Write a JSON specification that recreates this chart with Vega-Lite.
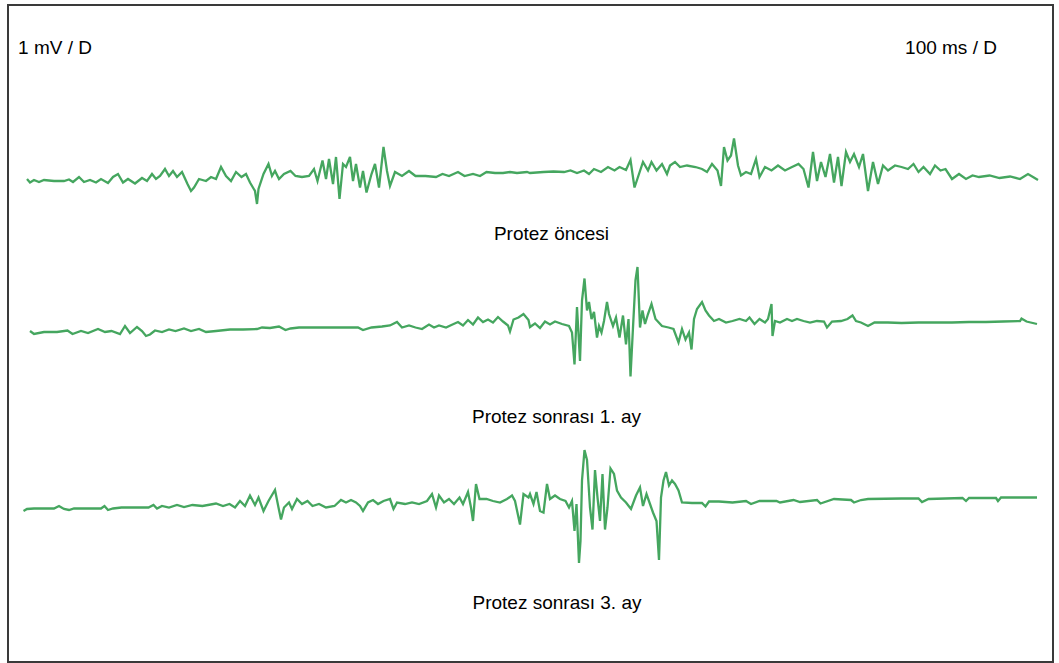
{
  "$schema": "https://vega.github.io/schema/vega-lite/v6.json",
  "autosize": {"type": "fit", "contains": "padding"},
  "width": 1059,
  "height": 663,
  "padding": {"left": 8, "top": 5, "right": 6, "bottom": 1},
  "background": "#ffffff",
  "config": {"view": {"stroke": "#3a3a3a", "strokeWidth": 2}},
  "datasets": {
    "traces": [
      {"s":"Protez öncesi","t":27,"v":179},{"s":"Protez öncesi","t":30,"v":182.5},{"s":"Protez öncesi","t":34,"v":180},{"s":"Protez öncesi","t":39,"v":182},{"s":"Protez öncesi","t":44,"v":180},{"s":"Protez öncesi","t":54,"v":181},{"s":"Protez öncesi","t":64,"v":181},{"s":"Protez öncesi","t":69,"v":179.5},{"s":"Protez öncesi","t":73,"v":182},{"s":"Protez öncesi","t":79,"v":177},{"s":"Protez öncesi","t":84,"v":182},{"s":"Protez öncesi","t":90,"v":180},{"s":"Protez öncesi","t":96,"v":182.5},{"s":"Protez öncesi","t":101,"v":179},{"s":"Protez öncesi","t":108,"v":183},{"s":"Protez öncesi","t":113,"v":177},{"s":"Protez öncesi","t":118,"v":174},{"s":"Protez öncesi","t":123,"v":182.5},{"s":"Protez öncesi","t":128,"v":179},{"s":"Protez öncesi","t":135,"v":183.5},{"s":"Protez öncesi","t":142,"v":178},{"s":"Protez öncesi","t":147,"v":181},{"s":"Protez öncesi","t":152,"v":174},{"s":"Protez öncesi","t":156,"v":179},{"s":"Protez öncesi","t":160,"v":176},{"s":"Protez öncesi","t":165,"v":169},{"s":"Protez öncesi","t":169,"v":176},{"s":"Protez öncesi","t":173,"v":171},{"s":"Protez öncesi","t":177,"v":177},{"s":"Protez öncesi","t":182,"v":172},{"s":"Protez öncesi","t":187.5,"v":184},{"s":"Protez öncesi","t":191,"v":191},{"s":"Protez öncesi","t":194,"v":187.5},{"s":"Protez öncesi","t":199,"v":179},{"s":"Protez öncesi","t":206,"v":181},{"s":"Protez öncesi","t":211,"v":177},{"s":"Protez öncesi","t":216,"v":179},{"s":"Protez öncesi","t":221,"v":167},{"s":"Protez öncesi","t":226,"v":176},{"s":"Protez öncesi","t":231,"v":181},{"s":"Protez öncesi","t":236,"v":172},{"s":"Protez öncesi","t":241.5,"v":177},{"s":"Protez öncesi","t":246,"v":174},{"s":"Protez öncesi","t":250,"v":182.5},{"s":"Protez öncesi","t":255,"v":191},{"s":"Protez öncesi","t":257,"v":204},{"s":"Protez öncesi","t":258.5,"v":189},{"s":"Protez öncesi","t":263.5,"v":174},{"s":"Protez öncesi","t":268.5,"v":164},{"s":"Protez öncesi","t":272,"v":176},{"s":"Protez öncesi","t":275,"v":171},{"s":"Protez öncesi","t":279,"v":179},{"s":"Protez öncesi","t":284,"v":174},{"s":"Protez öncesi","t":290.5,"v":171},{"s":"Protez öncesi","t":295.5,"v":176},{"s":"Protez öncesi","t":302,"v":177},{"s":"Protez öncesi","t":309,"v":176},{"s":"Protez öncesi","t":314,"v":169},{"s":"Protez öncesi","t":317.5,"v":181},{"s":"Protez öncesi","t":322.5,"v":160.5},{"s":"Protez öncesi","t":326,"v":179},{"s":"Protez öncesi","t":329,"v":159},{"s":"Protez öncesi","t":333,"v":184},{"s":"Protez öncesi","t":336,"v":157},{"s":"Protez öncesi","t":339.5,"v":199},{"s":"Protez öncesi","t":343,"v":164},{"s":"Protez öncesi","t":346,"v":167},{"s":"Protez öncesi","t":350,"v":157},{"s":"Protez öncesi","t":353,"v":181},{"s":"Protez öncesi","t":356,"v":164},{"s":"Protez öncesi","t":360,"v":187.5},{"s":"Protez öncesi","t":363,"v":171},{"s":"Protez öncesi","t":366.5,"v":192.5},{"s":"Protez öncesi","t":371.5,"v":174},{"s":"Protez öncesi","t":375,"v":164},{"s":"Protez öncesi","t":379,"v":187.5},{"s":"Protez öncesi","t":383.5,"v":147},{"s":"Protez öncesi","t":387,"v":171},{"s":"Protez öncesi","t":390,"v":186},{"s":"Protez öncesi","t":395,"v":172},{"s":"Protez öncesi","t":402,"v":176},{"s":"Protez öncesi","t":409,"v":171},{"s":"Protez öncesi","t":415.5,"v":176},{"s":"Protez öncesi","t":425.5,"v":176},{"s":"Protez öncesi","t":436,"v":177},{"s":"Protez öncesi","t":442.5,"v":174},{"s":"Protez öncesi","t":449,"v":176},{"s":"Protez öncesi","t":458,"v":172},{"s":"Protez öncesi","t":464.5,"v":176},{"s":"Protez öncesi","t":473,"v":174},{"s":"Protez öncesi","t":480,"v":176},{"s":"Protez öncesi","t":486.5,"v":172},{"s":"Protez öncesi","t":495,"v":173},{"s":"Protez öncesi","t":503,"v":173},{"s":"Protez öncesi","t":510,"v":172},{"s":"Protez öncesi","t":517,"v":173},{"s":"Protez öncesi","t":527,"v":172},{"s":"Protez öncesi","t":530,"v":173},{"s":"Protez öncesi","t":543.5,"v":172},{"s":"Protez öncesi","t":553.5,"v":171.5},{"s":"Protez öncesi","t":564,"v":172},{"s":"Protez öncesi","t":570.5,"v":170.5},{"s":"Protez öncesi","t":577,"v":173},{"s":"Protez öncesi","t":584,"v":170.5},{"s":"Protez öncesi","t":589,"v":174},{"s":"Protez öncesi","t":594,"v":169},{"s":"Protez öncesi","t":601,"v":172},{"s":"Protez öncesi","t":608,"v":167},{"s":"Protez öncesi","t":614.5,"v":170.5},{"s":"Protez öncesi","t":619.5,"v":167},{"s":"Protez öncesi","t":626,"v":170},{"s":"Protez öncesi","t":630.5,"v":160},{"s":"Protez öncesi","t":634.5,"v":187.5},{"s":"Protez öncesi","t":638,"v":177},{"s":"Protez öncesi","t":643,"v":162},{"s":"Protez öncesi","t":648,"v":170.5},{"s":"Protez öncesi","t":651.5,"v":162},{"s":"Protez öncesi","t":656.5,"v":170.5},{"s":"Protez öncesi","t":662,"v":164},{"s":"Protez öncesi","t":667,"v":174},{"s":"Protez öncesi","t":670,"v":165.5},{"s":"Protez öncesi","t":675,"v":162},{"s":"Protez öncesi","t":680,"v":167},{"s":"Protez öncesi","t":687,"v":165.5},{"s":"Protez öncesi","t":695.5,"v":167},{"s":"Protez öncesi","t":702,"v":169},{"s":"Protez öncesi","t":707,"v":172},{"s":"Protez öncesi","t":712,"v":164},{"s":"Protez öncesi","t":717.5,"v":170.5},{"s":"Protez öncesi","t":721,"v":186},{"s":"Protez öncesi","t":724,"v":147},{"s":"Protez öncesi","t":727.5,"v":160.5},{"s":"Protez öncesi","t":731,"v":155.5},{"s":"Protez öncesi","t":734,"v":138.5},{"s":"Protez öncesi","t":738,"v":165.5},{"s":"Protez öncesi","t":741,"v":175.5},{"s":"Protez öncesi","t":746,"v":172},{"s":"Protez öncesi","t":751,"v":174},{"s":"Protez öncesi","t":756,"v":159},{"s":"Protez öncesi","t":759.5,"v":177},{"s":"Protez öncesi","t":765,"v":167},{"s":"Protez öncesi","t":771.5,"v":170.5},{"s":"Protez öncesi","t":778,"v":165.5},{"s":"Protez öncesi","t":785,"v":170.5},{"s":"Protez öncesi","t":792,"v":167},{"s":"Protez öncesi","t":798.5,"v":164},{"s":"Protez öncesi","t":803.5,"v":169},{"s":"Protez öncesi","t":808.5,"v":187.5},{"s":"Protez öncesi","t":813,"v":152},{"s":"Protez öncesi","t":817,"v":181},{"s":"Protez öncesi","t":821,"v":162},{"s":"Protez öncesi","t":825.5,"v":177},{"s":"Protez öncesi","t":830,"v":154},{"s":"Protez öncesi","t":834,"v":182.5},{"s":"Protez öncesi","t":838,"v":157},{"s":"Protez öncesi","t":841.5,"v":186},{"s":"Protez öncesi","t":846,"v":152},{"s":"Protez öncesi","t":850,"v":162},{"s":"Protez öncesi","t":854,"v":154},{"s":"Protez öncesi","t":859,"v":167},{"s":"Protez öncesi","t":863,"v":154},{"s":"Protez öncesi","t":868,"v":191},{"s":"Protez öncesi","t":873,"v":162},{"s":"Protez öncesi","t":878,"v":184},{"s":"Protez öncesi","t":883,"v":165.5},{"s":"Protez öncesi","t":888,"v":170.5},{"s":"Protez öncesi","t":895,"v":165.5},{"s":"Protez öncesi","t":901.5,"v":167},{"s":"Protez öncesi","t":908,"v":169},{"s":"Protez öncesi","t":913.5,"v":164},{"s":"Protez öncesi","t":918.5,"v":172},{"s":"Protez öncesi","t":923.5,"v":167},{"s":"Protez öncesi","t":930,"v":174},{"s":"Protez öncesi","t":935,"v":165.5},{"s":"Protez öncesi","t":940.5,"v":170.5},{"s":"Protez öncesi","t":945.5,"v":169},{"s":"Protez öncesi","t":952,"v":179},{"s":"Protez öncesi","t":959,"v":174},{"s":"Protez öncesi","t":966,"v":179},{"s":"Protez öncesi","t":972.5,"v":175.5},{"s":"Protez öncesi","t":979,"v":177},{"s":"Protez öncesi","t":989.5,"v":175.5},{"s":"Protez öncesi","t":999.5,"v":178},{"s":"Protez öncesi","t":1010,"v":176.5},{"s":"Protez öncesi","t":1020,"v":179},{"s":"Protez öncesi","t":1028,"v":174},{"s":"Protez öncesi","t":1033,"v":177},{"s":"Protez öncesi","t":1038,"v":180},

      {"s":"Protez sonrası 1. ay","t":30,"v":331},{"s":"Protez sonrası 1. ay","t":34,"v":334},{"s":"Protez sonrası 1. ay","t":44,"v":332},{"s":"Protez sonrası 1. ay","t":57,"v":332},{"s":"Protez sonrası 1. ay","t":67.5,"v":330.5},{"s":"Protez sonrası 1. ay","t":72.5,"v":334},{"s":"Protez sonrası 1. ay","t":81,"v":331},{"s":"Protez sonrası 1. ay","t":88,"v":333},{"s":"Protez sonrası 1. ay","t":98,"v":329},{"s":"Protez sonrası 1. ay","t":105,"v":332},{"s":"Protez sonrası 1. ay","t":111.5,"v":331},{"s":"Protez sonrası 1. ay","t":120,"v":334},{"s":"Protez sonrası 1. ay","t":125,"v":326},{"s":"Protez sonrası 1. ay","t":130,"v":333},{"s":"Protez sonrası 1. ay","t":137,"v":327},{"s":"Protez sonrası 1. ay","t":142,"v":331},{"s":"Protez sonrası 1. ay","t":146,"v":336},{"s":"Protez sonrası 1. ay","t":150,"v":334.5},{"s":"Protez sonrası 1. ay","t":155,"v":330.5},{"s":"Protez sonrası 1. ay","t":162,"v":332},{"s":"Protez sonrası 1. ay","t":169,"v":329.5},{"s":"Protez sonrası 1. ay","t":175.5,"v":331},{"s":"Protez sonrası 1. ay","t":184,"v":328.5},{"s":"Protez sonrası 1. ay","t":191,"v":331},{"s":"Protez sonrası 1. ay","t":199,"v":329},{"s":"Protez sonrası 1. ay","t":206,"v":332},{"s":"Protez sonrası 1. ay","t":216,"v":331},{"s":"Protez sonrası 1. ay","t":230,"v":329.5},{"s":"Protez sonrası 1. ay","t":243,"v":329.5},{"s":"Protez sonrası 1. ay","t":257,"v":329},{"s":"Protez sonrası 1. ay","t":262,"v":327.5},{"s":"Protez sonrası 1. ay","t":270,"v":328},{"s":"Protez sonrası 1. ay","t":279,"v":326.5},{"s":"Protez sonrası 1. ay","t":285.5,"v":330},{"s":"Protez sonrası 1. ay","t":290.5,"v":328.5},{"s":"Protez sonrası 1. ay","t":299,"v":327.5},{"s":"Protez sonrası 1. ay","t":314,"v":327.5},{"s":"Protez sonrası 1. ay","t":331,"v":327.5},{"s":"Protez sonrası 1. ay","t":348,"v":327.5},{"s":"Protez sonrası 1. ay","t":358,"v":327.5},{"s":"Protez sonrası 1. ay","t":363,"v":330},{"s":"Protez sonrası 1. ay","t":371.5,"v":327.5},{"s":"Protez sonrası 1. ay","t":382,"v":326.5},{"s":"Protez sonrası 1. ay","t":390,"v":325.5},{"s":"Protez sonrası 1. ay","t":397,"v":322},{"s":"Protez sonrası 1. ay","t":402,"v":327.5},{"s":"Protez sonrası 1. ay","t":409,"v":325.5},{"s":"Protez sonrası 1. ay","t":415.5,"v":327.5},{"s":"Protez sonrası 1. ay","t":422,"v":329},{"s":"Protez sonrası 1. ay","t":429,"v":324.5},{"s":"Protez sonrası 1. ay","t":434,"v":327.5},{"s":"Protez sonrası 1. ay","t":439,"v":325.5},{"s":"Protez sonrası 1. ay","t":446,"v":327.5},{"s":"Protez sonrası 1. ay","t":452.5,"v":324.5},{"s":"Protez sonrası 1. ay","t":458,"v":322},{"s":"Protez sonrası 1. ay","t":463,"v":325.5},{"s":"Protez sonrası 1. ay","t":468,"v":320},{"s":"Protez sonrası 1. ay","t":473,"v":324.5},{"s":"Protez sonrası 1. ay","t":478,"v":317.5},{"s":"Protez sonrası 1. ay","t":483,"v":322},{"s":"Protez sonrası 1. ay","t":488,"v":319.5},{"s":"Protez sonrası 1. ay","t":493,"v":322.5},{"s":"Protez sonrası 1. ay","t":498,"v":317},{"s":"Protez sonrası 1. ay","t":503,"v":321.5},{"s":"Protez sonrası 1. ay","t":508,"v":325.5},{"s":"Protez sonrası 1. ay","t":510,"v":331.5},{"s":"Protez sonrası 1. ay","t":513.5,"v":319.5},{"s":"Protez sonrası 1. ay","t":518.5,"v":317.5},{"s":"Protez sonrası 1. ay","t":523.5,"v":314},{"s":"Protez sonrası 1. ay","t":528.5,"v":320},{"s":"Protez sonrası 1. ay","t":530,"v":327},{"s":"Protez sonrası 1. ay","t":535,"v":323.5},{"s":"Protez sonrası 1. ay","t":540,"v":328},{"s":"Protez sonrası 1. ay","t":545,"v":321.5},{"s":"Protez sonrası 1. ay","t":550,"v":324.5},{"s":"Protez sonrası 1. ay","t":555,"v":321.5},{"s":"Protez sonrası 1. ay","t":562,"v":324},{"s":"Protez sonrası 1. ay","t":569,"v":326},{"s":"Protez sonrası 1. ay","t":572,"v":332.5},{"s":"Protez sonrası 1. ay","t":574.5,"v":364.5},{"s":"Protez sonrası 1. ay","t":577,"v":307},{"s":"Protez sonrası 1. ay","t":580,"v":361},{"s":"Protez sonrası 1. ay","t":582,"v":300.5},{"s":"Protez sonrası 1. ay","t":584.5,"v":278.5},{"s":"Protez sonrası 1. ay","t":587,"v":310.5},{"s":"Protez sonrası 1. ay","t":589,"v":302},{"s":"Protez sonrası 1. ay","t":591.5,"v":319},{"s":"Protez sonrası 1. ay","t":594,"v":312},{"s":"Protez sonrası 1. ay","t":597,"v":337.5},{"s":"Protez sonrası 1. ay","t":599,"v":326},{"s":"Protez sonrası 1. ay","t":601.5,"v":332.5},{"s":"Protez sonrası 1. ay","t":604,"v":321},{"s":"Protez sonrası 1. ay","t":607,"v":302},{"s":"Protez sonrası 1. ay","t":609,"v":314},{"s":"Protez sonrası 1. ay","t":613,"v":326},{"s":"Protez sonrası 1. ay","t":616,"v":317.5},{"s":"Protez sonrası 1. ay","t":619.5,"v":337.5},{"s":"Protez sonrası 1. ay","t":623,"v":315.5},{"s":"Protez sonrası 1. ay","t":626,"v":344.5},{"s":"Protez sonrası 1. ay","t":628.5,"v":319},{"s":"Protez sonrası 1. ay","t":630.5,"v":376.5},{"s":"Protez sonrası 1. ay","t":633,"v":327.5},{"s":"Protez sonrası 1. ay","t":635.5,"v":280},{"s":"Protez sonrası 1. ay","t":637.5,"v":267},{"s":"Protez sonrası 1. ay","t":640,"v":327.5},{"s":"Protez sonrası 1. ay","t":642.5,"v":310.5},{"s":"Protez sonrası 1. ay","t":645,"v":324},{"s":"Protez sonrası 1. ay","t":648,"v":314},{"s":"Protez sonrası 1. ay","t":651.5,"v":304},{"s":"Protez sonrası 1. ay","t":655.5,"v":319},{"s":"Protez sonrası 1. ay","t":662,"v":326},{"s":"Protez sonrası 1. ay","t":668.5,"v":327.5},{"s":"Protez sonrası 1. ay","t":673.5,"v":329},{"s":"Protez sonrası 1. ay","t":678.5,"v":342.5},{"s":"Protez sonrası 1. ay","t":682,"v":329},{"s":"Protez sonrası 1. ay","t":685.5,"v":339.5},{"s":"Protez sonrası 1. ay","t":689,"v":332.5},{"s":"Protez sonrası 1. ay","t":691.5,"v":349.5},{"s":"Protez sonrası 1. ay","t":694,"v":319},{"s":"Protez sonrası 1. ay","t":697,"v":309},{"s":"Protez sonrası 1. ay","t":702,"v":302},{"s":"Protez sonrası 1. ay","t":705.5,"v":310.5},{"s":"Protez sonrası 1. ay","t":709,"v":315.5},{"s":"Protez sonrası 1. ay","t":714,"v":321},{"s":"Protez sonrası 1. ay","t":719,"v":319},{"s":"Protez sonrası 1. ay","t":726,"v":322.5},{"s":"Protez sonrası 1. ay","t":732.5,"v":321},{"s":"Protez sonrası 1. ay","t":739.5,"v":319},{"s":"Protez sonrası 1. ay","t":746,"v":321},{"s":"Protez sonrası 1. ay","t":749.5,"v":317.5},{"s":"Protez sonrası 1. ay","t":754.5,"v":324},{"s":"Protez sonrası 1. ay","t":759.5,"v":319},{"s":"Protez sonrası 1. ay","t":765,"v":322.5},{"s":"Protez sonrası 1. ay","t":768,"v":319},{"s":"Protez sonrası 1. ay","t":771.5,"v":304},{"s":"Protez sonrası 1. ay","t":772.5,"v":336},{"s":"Protez sonrası 1. ay","t":775,"v":321},{"s":"Protez sonrası 1. ay","t":780,"v":322.5},{"s":"Protez sonrası 1. ay","t":787,"v":319},{"s":"Protez sonrası 1. ay","t":792,"v":321},{"s":"Protez sonrası 1. ay","t":797,"v":319},{"s":"Protez sonrası 1. ay","t":803.5,"v":321},{"s":"Protez sonrası 1. ay","t":810,"v":322.5},{"s":"Protez sonrası 1. ay","t":817,"v":321},{"s":"Protez sonrası 1. ay","t":824,"v":321.5},{"s":"Protez sonrası 1. ay","t":827,"v":327.5},{"s":"Protez sonrası 1. ay","t":832,"v":321.5},{"s":"Protez sonrası 1. ay","t":841,"v":321},{"s":"Protez sonrası 1. ay","t":847.5,"v":319},{"s":"Protez sonrası 1. ay","t":852.5,"v":315.5},{"s":"Protez sonrası 1. ay","t":856,"v":321},{"s":"Protez sonrası 1. ay","t":861,"v":322.5},{"s":"Protez sonrası 1. ay","t":868,"v":326},{"s":"Protez sonrası 1. ay","t":874.5,"v":322.5},{"s":"Protez sonrası 1. ay","t":888,"v":322.5},{"s":"Protez sonrası 1. ay","t":901.5,"v":323},{"s":"Protez sonrası 1. ay","t":918.5,"v":322.5},{"s":"Protez sonrası 1. ay","t":935,"v":322.5},{"s":"Protez sonrası 1. ay","t":952,"v":322.5},{"s":"Protez sonrası 1. ay","t":969,"v":322},{"s":"Protez sonrası 1. ay","t":986,"v":322},{"s":"Protez sonrası 1. ay","t":1003,"v":321.5},{"s":"Protez sonrası 1. ay","t":1020,"v":321},{"s":"Protez sonrası 1. ay","t":1021.5,"v":318.5},{"s":"Protez sonrası 1. ay","t":1026.5,"v":321.5},{"s":"Protez sonrası 1. ay","t":1037,"v":324},

      {"s":"Protez sonrası 3. ay","t":23.5,"v":511},{"s":"Protez sonrası 3. ay","t":27,"v":509},{"s":"Protez sonrası 3. ay","t":34,"v":508.5},{"s":"Protez sonrası 3. ay","t":44,"v":508.5},{"s":"Protez sonrası 3. ay","t":54,"v":508.5},{"s":"Protez sonrası 3. ay","t":59,"v":506},{"s":"Protez sonrası 3. ay","t":64,"v":509},{"s":"Protez sonrası 3. ay","t":69,"v":510},{"s":"Protez sonrası 3. ay","t":74,"v":508.5},{"s":"Protez sonrası 3. ay","t":88,"v":508.5},{"s":"Protez sonrası 3. ay","t":101,"v":508.5},{"s":"Protez sonrası 3. ay","t":104.5,"v":506},{"s":"Protez sonrası 3. ay","t":108,"v":510},{"s":"Protez sonrası 3. ay","t":113,"v":508.5},{"s":"Protez sonrası 3. ay","t":121.5,"v":507.5},{"s":"Protez sonrası 3. ay","t":135,"v":507.5},{"s":"Protez sonrası 3. ay","t":148.5,"v":507.5},{"s":"Protez sonrası 3. ay","t":153.5,"v":505},{"s":"Protez sonrası 3. ay","t":157,"v":508.5},{"s":"Protez sonrası 3. ay","t":162,"v":506},{"s":"Protez sonrası 3. ay","t":169,"v":507.5},{"s":"Protez sonrası 3. ay","t":177,"v":505},{"s":"Protez sonrası 3. ay","t":184,"v":507},{"s":"Protez sonrası 3. ay","t":192.5,"v":505},{"s":"Protez sonrası 3. ay","t":202.5,"v":506},{"s":"Protez sonrası 3. ay","t":216,"v":503.5},{"s":"Protez sonrası 3. ay","t":223,"v":506},{"s":"Protez sonrası 3. ay","t":229.5,"v":504},{"s":"Protez sonrası 3. ay","t":235,"v":507.5},{"s":"Protez sonrası 3. ay","t":240,"v":501},{"s":"Protez sonrası 3. ay","t":245,"v":506},{"s":"Protez sonrası 3. ay","t":250,"v":495.5},{"s":"Protez sonrası 3. ay","t":255,"v":505},{"s":"Protez sonrası 3. ay","t":258.5,"v":497.5},{"s":"Protez sonrası 3. ay","t":263.5,"v":511},{"s":"Protez sonrası 3. ay","t":268.5,"v":501},{"s":"Protez sonrası 3. ay","t":275,"v":490},{"s":"Protez sonrası 3. ay","t":278.5,"v":507.5},{"s":"Protez sonrası 3. ay","t":281,"v":519.5},{"s":"Protez sonrası 3. ay","t":284,"v":507.5},{"s":"Protez sonrası 3. ay","t":289,"v":502.5},{"s":"Protez sonrası 3. ay","t":292,"v":509},{"s":"Protez sonrası 3. ay","t":297,"v":499},{"s":"Protez sonrası 3. ay","t":302,"v":504},{"s":"Protez sonrası 3. ay","t":307.5,"v":501},{"s":"Protez sonrası 3. ay","t":312.5,"v":506},{"s":"Protez sonrası 3. ay","t":319,"v":504},{"s":"Protez sonrası 3. ay","t":326,"v":507.5},{"s":"Protez sonrası 3. ay","t":334.5,"v":506},{"s":"Protez sonrası 3. ay","t":341,"v":500},{"s":"Protez sonrası 3. ay","t":346,"v":502.5},{"s":"Protez sonrası 3. ay","t":351,"v":500},{"s":"Protez sonrası 3. ay","t":356,"v":502.5},{"s":"Protez sonrası 3. ay","t":360,"v":506},{"s":"Protez sonrası 3. ay","t":363,"v":511},{"s":"Protez sonrası 3. ay","t":368,"v":502.5},{"s":"Protez sonrası 3. ay","t":373,"v":500},{"s":"Protez sonrası 3. ay","t":378,"v":504},{"s":"Protez sonrası 3. ay","t":383.5,"v":501},{"s":"Protez sonrası 3. ay","t":390,"v":499},{"s":"Protez sonrası 3. ay","t":393.5,"v":509},{"s":"Protez sonrası 3. ay","t":397,"v":502.5},{"s":"Protez sonrası 3. ay","t":405,"v":504},{"s":"Protez sonrası 3. ay","t":412,"v":502.5},{"s":"Protez sonrası 3. ay","t":419,"v":504},{"s":"Protez sonrası 3. ay","t":427,"v":501},{"s":"Protez sonrası 3. ay","t":432,"v":494},{"s":"Protez sonrası 3. ay","t":436,"v":507.5},{"s":"Protez sonrası 3. ay","t":439,"v":495.5},{"s":"Protez sonrası 3. ay","t":444,"v":502.5},{"s":"Protez sonrası 3. ay","t":449,"v":499},{"s":"Protez sonrası 3. ay","t":454,"v":504},{"s":"Protez sonrası 3. ay","t":459.5,"v":497.5},{"s":"Protez sonrası 3. ay","t":463,"v":504},{"s":"Protez sonrası 3. ay","t":468,"v":492},{"s":"Protez sonrası 3. ay","t":471,"v":507.5},{"s":"Protez sonrası 3. ay","t":473,"v":521},{"s":"Protez sonrası 3. ay","t":476,"v":484},{"s":"Protez sonrası 3. ay","t":479.5,"v":499},{"s":"Protez sonrası 3. ay","t":486.5,"v":499},{"s":"Protez sonrası 3. ay","t":493,"v":501},{"s":"Protez sonrası 3. ay","t":500,"v":502.5},{"s":"Protez sonrası 3. ay","t":507,"v":499},{"s":"Protez sonrası 3. ay","t":512,"v":495.5},{"s":"Protez sonrası 3. ay","t":515,"v":501},{"s":"Protez sonrası 3. ay","t":520,"v":524.5},{"s":"Protez sonrası 3. ay","t":523.5,"v":494},{"s":"Protez sonrası 3. ay","t":528.5,"v":497.5},{"s":"Protez sonrası 3. ay","t":530,"v":494},{"s":"Protez sonrası 3. ay","t":533.5,"v":504},{"s":"Protez sonrası 3. ay","t":536.5,"v":492},{"s":"Protez sonrası 3. ay","t":540,"v":511},{"s":"Protez sonrası 3. ay","t":543.5,"v":512.5},{"s":"Protez sonrası 3. ay","t":547,"v":484},{"s":"Protez sonrası 3. ay","t":550,"v":499},{"s":"Protez sonrası 3. ay","t":555,"v":495.5},{"s":"Protez sonrası 3. ay","t":560,"v":499},{"s":"Protez sonrası 3. ay","t":565.5,"v":501},{"s":"Protez sonrası 3. ay","t":569,"v":507.5},{"s":"Protez sonrası 3. ay","t":572,"v":501},{"s":"Protez sonrası 3. ay","t":574.5,"v":531},{"s":"Protez sonrası 3. ay","t":576.5,"v":504},{"s":"Protez sonrası 3. ay","t":579,"v":563},{"s":"Protez sonrası 3. ay","t":580.5,"v":541},{"s":"Protez sonrası 3. ay","t":582,"v":480.5},{"s":"Protez sonrası 3. ay","t":584.5,"v":450},{"s":"Protez sonrası 3. ay","t":587,"v":460},{"s":"Protez sonrası 3. ay","t":590,"v":507.5},{"s":"Protez sonrası 3. ay","t":592.5,"v":529.5},{"s":"Protez sonrası 3. ay","t":595,"v":470},{"s":"Protez sonrası 3. ay","t":597.5,"v":497.5},{"s":"Protez sonrası 3. ay","t":600,"v":521},{"s":"Protez sonrası 3. ay","t":602.5,"v":474},{"s":"Protez sonrası 3. ay","t":605,"v":529.5},{"s":"Protez sonrası 3. ay","t":607.5,"v":507.5},{"s":"Protez sonrası 3. ay","t":610.5,"v":468.5},{"s":"Protez sonrası 3. ay","t":614,"v":474},{"s":"Protez sonrası 3. ay","t":617,"v":490.5},{"s":"Protez sonrası 3. ay","t":621,"v":497.5},{"s":"Protez sonrası 3. ay","t":626,"v":502.5},{"s":"Protez sonrası 3. ay","t":631,"v":509},{"s":"Protez sonrası 3. ay","t":636,"v":495.5},{"s":"Protez sonrası 3. ay","t":640,"v":487.5},{"s":"Protez sonrası 3. ay","t":643,"v":506},{"s":"Protez sonrası 3. ay","t":646.5,"v":494},{"s":"Protez sonrası 3. ay","t":650,"v":504},{"s":"Protez sonrası 3. ay","t":653,"v":512.5},{"s":"Protez sonrası 3. ay","t":656.5,"v":521},{"s":"Protez sonrası 3. ay","t":659,"v":560},{"s":"Protez sonrası 3. ay","t":661,"v":497.5},{"s":"Protez sonrası 3. ay","t":663.5,"v":480.5},{"s":"Protez sonrası 3. ay","t":666,"v":472},{"s":"Protez sonrası 3. ay","t":669,"v":485.5},{"s":"Protez sonrası 3. ay","t":672,"v":480.5},{"s":"Protez sonrası 3. ay","t":675,"v":484},{"s":"Protez sonrası 3. ay","t":678.5,"v":490.5},{"s":"Protez sonrası 3. ay","t":682,"v":502.5},{"s":"Protez sonrası 3. ay","t":692,"v":503},{"s":"Protez sonrası 3. ay","t":702,"v":503},{"s":"Protez sonrası 3. ay","t":705.5,"v":506.5},{"s":"Protez sonrası 3. ay","t":709,"v":501.5},{"s":"Protez sonrası 3. ay","t":719,"v":501.5},{"s":"Protez sonrası 3. ay","t":732.5,"v":502.5},{"s":"Protez sonrası 3. ay","t":746,"v":501},{"s":"Protez sonrası 3. ay","t":751,"v":504},{"s":"Protez sonrası 3. ay","t":759.5,"v":501},{"s":"Protez sonrası 3. ay","t":776.5,"v":501},{"s":"Protez sonrası 3. ay","t":780,"v":502.5},{"s":"Protez sonrası 3. ay","t":793.5,"v":500},{"s":"Protez sonrası 3. ay","t":800,"v":502},{"s":"Protez sonrası 3. ay","t":817,"v":500},{"s":"Protez sonrası 3. ay","t":820.5,"v":503.5},{"s":"Protez sonrası 3. ay","t":834,"v":499},{"s":"Protez sonrası 3. ay","t":851,"v":500},{"s":"Protez sonrası 3. ay","t":854,"v":502.5},{"s":"Protez sonrası 3. ay","t":861,"v":500},{"s":"Protez sonrası 3. ay","t":868,"v":499},{"s":"Protez sonrası 3. ay","t":901.5,"v":498.5},{"s":"Protez sonrası 3. ay","t":918.5,"v":498.5},{"s":"Protez sonrası 3. ay","t":922,"v":502},{"s":"Protez sonrası 3. ay","t":928.5,"v":499},{"s":"Protez sonrası 3. ay","t":962.5,"v":498},{"s":"Protez sonrası 3. ay","t":966,"v":501},{"s":"Protez sonrası 3. ay","t":969,"v":498},{"s":"Protez sonrası 3. ay","t":996,"v":498},{"s":"Protez sonrası 3. ay","t":998,"v":501},{"s":"Protez sonrası 3. ay","t":1001,"v":497.5},{"s":"Protez sonrası 3. ay","t":1037,"v":497.5}
    ],
    "labels": [
      {"label":"1 mV / D","t":55,"v":48},
      {"label":"100 ms / D","t":951,"v":48},
      {"label":"Protez öncesi","t":551.5,"v":234},
      {"label":"Protez sonrası 1. ay","t":556.5,"v":417},
      {"label":"Protez sonrası 3. ay","t":557,"v":603}
    ]
  },
  "layer": [
    {
      "data": {"name": "traces"},
      "mark": {"type": "line", "color": "#45a65f", "strokeWidth": 2.3, "strokeJoin": "miter", "interpolate": "linear"},
      "encoding": {
        "x": {"field": "t", "type": "quantitative", "scale": {"domain": [8, 1053], "nice": false, "zero": false}, "axis": null},
        "y": {"field": "v", "type": "quantitative", "scale": {"domain": [5, 662], "nice": false, "zero": false, "reverse": true}, "axis": null},
        "detail": {"field": "s", "type": "nominal"}
      }
    },
    {
      "data": {"name": "labels"},
      "mark": {"type": "text", "align": "center", "baseline": "middle", "font": "Liberation Sans", "fontSize": 19, "color": "#000000"},
      "encoding": {
        "x": {"field": "t", "type": "quantitative"},
        "y": {"field": "v", "type": "quantitative"},
        "text": {"field": "label"}
      }
    }
  ]
}
